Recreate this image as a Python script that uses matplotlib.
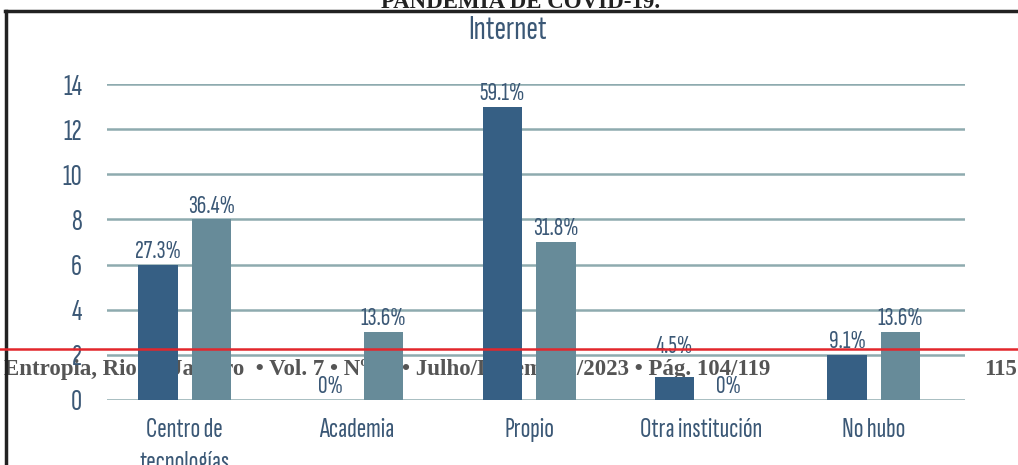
import matplotlib
matplotlib.use("Agg")
import matplotlib.pyplot as plt
import numpy as np

# data
categories = ["Centro de\ntecnologías", "Academia", "Propio", "Otra institución", "No hubo"]
serie_a = [6, 0, 13, 1, 2]
serie_b = [8, 3, 7, 0, 3]
labels_a = ["27.3%", "0%", "59.1%", "4.5%", "9.1%"]
labels_b = ["36.4%", "13.6%", "31.8%", "0%", "13.6%"]
yticks = [0, 2, 4, 6, 8, 10, 12, 14]

dark = "#365f84"
light = "#678b99"
txt = "#3b5876"
grid = "#8eabaf"
font = ["Sofia Sans Extra Condensed", "DejaVu Sans"]

fig = plt.figure(figsize=(10.18, 4.65), dpi=100)

# page stuff from the scan behind the chart
fig.text(0.004, 0.205, "Entropia, Rio de Janeiro  • Vol. 7 • Nº 14 • Julho/Dezembro/2023 • Pág. 104/119",
         fontsize=16.5, fontweight="bold", family="Liberation Serif", color="#555555",
         va="center", ha="left", zorder=-5)
fig.text(0.967, 0.205, "115", fontsize=16.5, fontweight="bold", family="Liberation Serif",
         color="#555555", va="center", ha="left", zorder=-5)
fig.text(0.511, 0.995, "PANDEMIA DE COVID-19.", fontsize=16.5, fontweight="bold",
         family="Liberation Serif", color="#222222", va="center", ha="center")

ax = fig.add_axes([0.105, 0.14, 0.843, 0.679])
ax.patch.set_alpha(0)

x = np.arange(len(categories))
w = 0.229
off = 0.155
ax.bar(x - off, serie_a, w, color=dark, zorder=3)
ax.bar(x + off, serie_b, w, color=light, zorder=3)

# the 4.5% label sits higher than the others in the original
lift_a = [0.3, 0.3, 0.3, 1.1, 0.3]
for xi, v, s, d in zip(x - off, serie_a, labels_a, lift_a):
    ax.text(xi, v + d, s, ha="center", va="baseline", fontsize=19, color=txt,
            family=font, fontweight="light")
for xi, v, s in zip(x + off, serie_b, labels_b):
    ax.text(xi, v + 0.3, s, ha="center", va="baseline", fontsize=19, color=txt,
            family=font, fontweight="light")

for t in yticks:
    ax.axhline(t, color=grid, lw=1.8, zorder=1)

ax.set_xlim(-0.451, 4.530)
ax.set_ylim(0, 14)
ax.set_yticks(yticks)
ax.set_yticklabels([str(t) for t in yticks], fontsize=22, color=txt, family=font, fontweight="light")
ax.set_xticks(x)
ax.set_xticklabels(categories, fontsize=20.5, color=txt, family=font, fontweight="light",
                   linespacing=1.45, va="top")
ax.tick_params(length=0)
ax.tick_params(axis="y", pad=18)
ax.tick_params(axis="x", pad=13)
for sp in ax.spines.values():
    sp.set_visible(False)

fig.text(0.499, 0.935, "Internet", fontsize=25, color=txt, family=font, fontweight="light",
         ha="center", va="center")

# scan border and the red page line
fig.add_artist(plt.Line2D([0.005, 1.0], [0.976, 0.976], color="#222222", lw=2.5))
fig.add_artist(plt.Line2D([0.006, 0.006], [0.0, 0.976], color="#222222", lw=2.5))
fig.add_artist(plt.Line2D([0.0, 1.0], [0.249, 0.249], color="#e3262c", lw=1.8, zorder=10))

fig.savefig("out.png", dpi=100)
